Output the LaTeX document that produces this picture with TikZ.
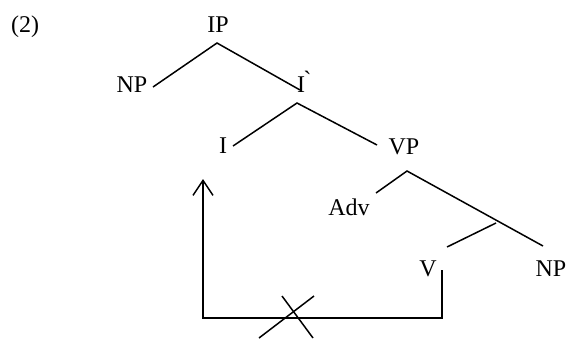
\documentclass[tikz,border=0pt]{standalone}
\usepackage{fontspec}
\setmainfont{Liberation Serif}
\usetikzlibrary{arrows.meta}
\begin{document}
\begin{tikzpicture}[x=1pt,y=-1pt,
  lbl/.style={inner sep=0pt, anchor=base, font=\fontsize{24}{27}\selectfont},
  edge/.style={line width=1.5pt},
  move/.style={line width=1.5pt, -{Straight Barb[length=15pt,width=20pt,line width=1.5pt]}}]
\useasboundingbox (0,0) rectangle (569,338);
\node[lbl] (ex) at (25,32) {(2)};
\node[lbl] (ip) at (218,32) {IP};
\node[lbl] (np1) at (132,92) {NP};
\node[lbl] (ibar) at (304,92) {I\`{}};
\node[lbl] (i) at (223,153) {I};
\node[lbl] (vp) at (404,154) {VP};
\node[lbl] (adv) at (349,215) {Adv};
\node[lbl] (v) at (428,276) {V};
\node[lbl] (np2) at (551,276) {NP};
% tree attachment points
\coordinate (ipd) at (217,43);
\coordinate (np1r) at (153,87);
\coordinate (ibaru) at (300,90);
\coordinate (ibard) at (297,103);
\coordinate (ir) at (233,146);
\coordinate (vpu) at (377,145);
\coordinate (vpd) at (407,171);
\coordinate (advu) at (376,193);
\coordinate (np2u) at (543,246);
\coordinate (vbar) at (496,223);
\coordinate (vu) at (447,247);
\draw[edge] (np1r) -- (ipd) -- (ibaru);
\draw[edge] (ir) -- (ibard) -- (vpu);
\draw[edge] (advu) -- (vpd) -- (np2u);
\draw[edge] (vbar) -- (vu);
% movement arrow
\coordinate (vd) at (442,270);
\coordinate (br) at (442,318);
\coordinate (bl) at (203,318);
\coordinate (iu) at (203,179);
\draw[move] (vd) -- (br) -- (bl) -- (iu);
% blocking cross
\coordinate (x1) at (282,296);
\coordinate (x2) at (313,338);
\coordinate (x3) at (314,296);
\coordinate (x4) at (259,338);
\draw[edge] (x1) -- (x2);
\draw[edge] (x3) -- (x4);
\end{tikzpicture}
\end{document}
